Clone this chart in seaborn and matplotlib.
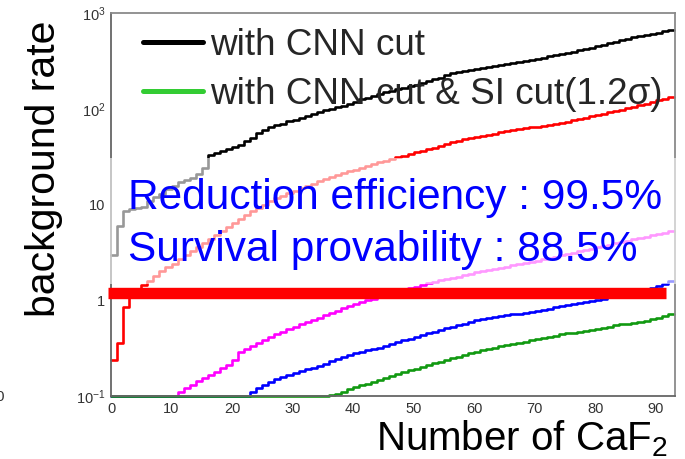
import numpy as np
import pandas as pd
import matplotlib
matplotlib.use("Agg")
import matplotlib.pyplot as plt
import seaborn as sns
from matplotlib.lines import Line2D
from matplotlib.patches import Rectangle
from matplotlib.ticker import MultipleLocator, LogLocator, FuncFormatter, NullFormatter

# ---------------------------------------------------------------------------
# Background rate per bin of "number of CaF2" (bins 0..92, width 1).
# 0.0 marks an empty bin (drawn on the frame floor, ROOT style).
# ---------------------------------------------------------------------------
rate_cnn = [
    3.0, 6.0, 8.5, 9.0, 9.3, 9.5, 11.0, 12.0, 13.0, 14.5,
    15.5, 17.0, 18.0, 19.0, 21.0, 24.0, 33.0, 34.5, 36.0, 38.0,
    40.0, 42.0, 46.0, 50.0, 56.0, 60.0, 64.0, 67.0, 70.0, 74.0,
    77.0, 80.0, 84.0, 88.0, 92.0, 96.0, 100.0, 104.0, 108.0, 113.0,
    119.0, 125.0, 130.0, 136.0, 142.0, 148.0, 154.0, 160.0, 166.0, 172.0,
    178.0, 186.0, 194.0, 203.0, 212.0, 224.0, 236.0, 242.0, 248.0, 254.0,
    260.0, 266.0, 272.0, 278.0, 285.0, 292.0, 299.0, 306.0, 314.0, 322.0,
    332.0, 342.0, 352.0, 362.0, 373.0, 384.0, 395.0, 406.0, 418.0, 434.0,
    450.0, 467.0, 485.0, 502.0, 520.0, 537.0, 555.0, 572.0, 590.0, 607.0,
    625.0, 645.0, 665.0,
]
rate_cnn_a = [
    0.24, 0.36, 0.85, 1.07, 1.3, 1.45, 1.6, 1.8, 2.0, 2.2,
    2.4, 2.7, 3.0, 3.3, 3.6, 4.0, 4.4, 4.8, 5.3, 5.8,
    6.4, 7.0, 7.8, 8.6, 9.3, 10.0, 10.8, 11.6, 12.4, 13.2,
    14.0, 14.8, 15.6, 16.5, 17.4, 18.3, 19.2, 20.2, 21.2, 22.2,
    23.2, 24.2, 25.3, 26.4, 27.5, 28.6, 29.8, 31.0, 32.3, 33.6,
    35.0, 36.4, 37.8, 39.3, 41.0, 43.0, 45.0, 46.4, 47.8, 49.2,
    50.6, 52.0, 53.5, 55.0, 56.5, 58.0, 59.5, 61.0, 62.5, 64.0,
    65.0, 66.0, 67.0, 69.0, 71.0, 73.0, 75.5, 78.0, 80.5, 83.0,
    86.0, 89.0, 92.0, 95.0, 98.0, 101.0, 105.0, 109.0, 113.0, 117.0,
    122.0, 127.0, 132.0,
]
rate_cnn_b = [
    0.0, 0.0, 0.0, 0.0, 0.0, 0.0, 0.0, 0.0, 0.0, 0.0,
    0.0, 0.11, 0.12, 0.13, 0.145, 0.155, 0.165, 0.18, 0.195, 0.21,
    0.235, 0.29, 0.31, 0.33, 0.355, 0.38, 0.41, 0.44, 0.47, 0.50,
    0.53, 0.56, 0.59, 0.62, 0.66, 0.70, 0.74, 0.78, 0.83, 0.87,
    0.92, 0.96, 1.00, 1.04, 1.09, 1.13, 1.18, 1.23, 1.28, 1.33,
    1.38, 1.44, 1.50, 1.56, 1.62, 1.67, 1.72, 1.77, 1.83, 1.89,
    1.95, 2.01, 2.07, 2.13, 2.19, 2.25, 2.32, 2.39, 2.46, 2.53,
    2.60, 2.68, 2.76, 2.85, 2.95, 3.05, 3.15, 3.25, 3.36, 3.47,
    3.58, 3.70, 3.82, 3.94, 4.06, 4.19, 4.32, 4.46, 4.60, 4.75,
    4.90, 5.05, 5.25,
]
rate_cnn_c = [
    0.0, 0.0, 0.0, 0.0, 0.0, 0.0, 0.0, 0.0, 0.0, 0.0,
    0.0, 0.0, 0.0, 0.0, 0.0, 0.0, 0.0, 0.0, 0.0, 0.0,
    0.0, 0.0, 0.0, 0.11, 0.12, 0.13, 0.14, 0.15, 0.158, 0.166,
    0.174, 0.182, 0.19, 0.198, 0.208, 0.218, 0.23, 0.242, 0.255, 0.268,
    0.28, 0.29, 0.30, 0.31, 0.32, 0.335, 0.35, 0.365, 0.38, 0.395,
    0.41, 0.43, 0.45, 0.47, 0.49, 0.51, 0.53, 0.55, 0.57, 0.595,
    0.62, 0.635, 0.65, 0.665, 0.68, 0.695, 0.71, 0.725, 0.74, 0.76,
    0.78, 0.80, 0.82, 0.845, 0.87, 0.89, 0.91, 0.935, 0.96, 0.985,
    1.01, 1.04, 1.07, 1.10, 1.13, 1.155, 1.18, 1.22, 1.27, 1.33,
    1.40, 1.48, 1.58,
]
rate_cnn_si = [
    0.0, 0.0, 0.0, 0.0, 0.0, 0.0, 0.0, 0.0, 0.0, 0.0,
    0.0, 0.0, 0.0, 0.0, 0.0, 0.0, 0.0, 0.0, 0.0, 0.0,
    0.0, 0.0, 0.0, 0.0, 0.0, 0.0, 0.0, 0.0, 0.0, 0.0,
    0.0, 0.0, 0.0, 0.0, 0.0, 0.0, 0.102, 0.106, 0.111, 0.117,
    0.123, 0.129, 0.135, 0.141, 0.147, 0.154, 0.161, 0.168, 0.176, 0.185,
    0.193, 0.202, 0.211, 0.22, 0.229, 0.238, 0.248, 0.258, 0.268, 0.279,
    0.29, 0.30, 0.31, 0.32, 0.33, 0.34, 0.35, 0.36, 0.37, 0.38,
    0.39, 0.40, 0.41, 0.425, 0.44, 0.45, 0.46, 0.47, 0.48, 0.49,
    0.50, 0.515, 0.53, 0.545, 0.56, 0.57, 0.58, 0.595, 0.61, 0.63,
    0.65, 0.68, 0.71,
]

series_names = ["cnn", "cnn_a", "cnn_b", "cnn_c", "cnn_si"]
series_rates = [rate_cnn, rate_cnn_a, rate_cnn_b, rate_cnn_c, rate_cnn_si]
series_colors = ["#000000", "#ff0000", "#ff00ff", "#0000ff", "#119911"]

legend_labels = ["with CNN cut", "with CNN cut & SI cut(1.2\u03c3)"]
legend_colors = ["#000000", "#33cc33"]

text_lines = ["Reduction efficiency : 99.5%", "Survival provability : 88.5%"]
rate_limit = 1.2

x_ticks = [0, 10, 20, 30, 40, 50, 60, 70, 80, 90]
y_min, y_max = 0.1, 1000.0
x_max = 93.2

# ---------------------------------------------------------------------------
sns.set_style("white")
plt.rcParams["font.family"] = ["Liberation Sans", "DejaVu Sans"]
plt.rcParams["mathtext.fontset"] = "custom"
plt.rcParams["mathtext.rm"] = "Liberation Sans"
plt.rcParams["mathtext.it"] = "Liberation Sans:italic"
plt.rcParams["mathtext.bf"] = "Liberation Sans:bold"

# long table of step edges: each bin [n, n+1) holds its rate
rows = []
for name, rates in zip(series_names, series_rates):
    vals = np.maximum(np.asarray(rates, dtype=float), y_min)
    vals = np.append(vals, vals[-1])
    for n, v in enumerate(vals):
        rows.append({"n": n, "rate": v, "series": name})
df = pd.DataFrame(rows)

fig = plt.figure(figsize=(6.85, 4.59), dpi=100)
ax = fig.add_axes([111 / 685, 1 - 396 / 459, (675 - 111) / 685, (396 - 13) / 459])

sns.lineplot(
    data=df, x="n", y="rate", hue="series", hue_order=series_names,
    palette=dict(zip(series_names, series_colors)), estimator=None, sort=False,
    drawstyle="steps-post", linewidth=1.9, legend=False, ax=ax, clip_on=False,
)
ax.set_yscale("log")
ax.set_ylim(y_min, y_max)
ax.set_xlim(0, x_max)

# threshold level
ax.hlines(rate_limit, -0.5, 91.7, colors="#ff0000", linewidth=8.2, zorder=4,
          clip_on=False)

# axes styling (ROOT-like inward ticks)
for side in ["top", "right"]:
    ax.spines[side].set_color("#8a8a8a")
for side in ["left", "bottom"]:
    ax.spines[side].set_color("#666666")
for sp in ax.spines.values():
    sp.set_linewidth(1.3)

ax.xaxis.set_major_locator(plt.FixedLocator(x_ticks))
ax.xaxis.set_minor_locator(MultipleLocator(2))
ax.yaxis.set_major_locator(LogLocator(base=10, numticks=10))
ax.yaxis.set_minor_locator(LogLocator(base=10, subs=np.arange(2, 10), numticks=20))
ax.yaxis.set_minor_formatter(NullFormatter())


def decade_label(v, pos):
    e = int(round(np.log10(v)))
    if e == 0:
        return "1"
    if e == 1:
        return "10"
    return r"$10^{%d}$" % e


ax.yaxis.set_major_formatter(FuncFormatter(decade_label))
ax.tick_params(axis="both", which="both", direction="in", colors="#555555",
               labelcolor="#333333", labelsize=10.5, top=False, right=False)
ax.tick_params(axis="x", which="major", length=7.2, width=1.1, pad=4)
ax.tick_params(axis="x", which="minor", length=3.6, width=1.0)
ax.tick_params(axis="y", which="major", length=12, width=1.1, pad=4)
ax.tick_params(axis="y", which="minor", length=7, width=1.0)

ax.set_ylabel("background rate", fontsize=29.5, color="black")
ax.yaxis.set_label_coords(-0.085, 0.593)
ax.set_xlabel("Number of CaF$_2$", fontsize=29, color="black", ha="left")
ax.xaxis.set_label_coords(0.47, -0.058)

handles = [Line2D([], [], color=c, linewidth=3.6) for c in legend_colors]
ax.legend(handles, legend_labels, loc="upper left", bbox_to_anchor=(0.057, 0.962),
          frameon=False, fontsize=26.6, handlelength=1.63, handletextpad=0.19,
          labelspacing=0.38, borderpad=0, borderaxespad=0)

# pale veil behind the summary text
fig.add_artist(Rectangle((107 / 685, 1 - 284 / 459), (682 - 107) / 685, (284 - 158) / 459,
                         transform=fig.transFigure, facecolor="white", alpha=0.6,
                         edgecolor="none", zorder=5))
fig.text(128 / 685, 1 - 209 / 459, text_lines[0], color="#0000ff", fontsize=30.5,
         va="baseline", ha="left", zorder=6)
fig.text(128 / 685, 1 - 261 / 459, text_lines[1], color="#0000ff", fontsize=30.5,
         va="baseline", ha="left", zorder=6)
fig.text(0.0, 1 - 397 / 459, "0", color="#333333", fontsize=11, ha="center",
         va="center")

fig.savefig("out.png", dpi=100)
